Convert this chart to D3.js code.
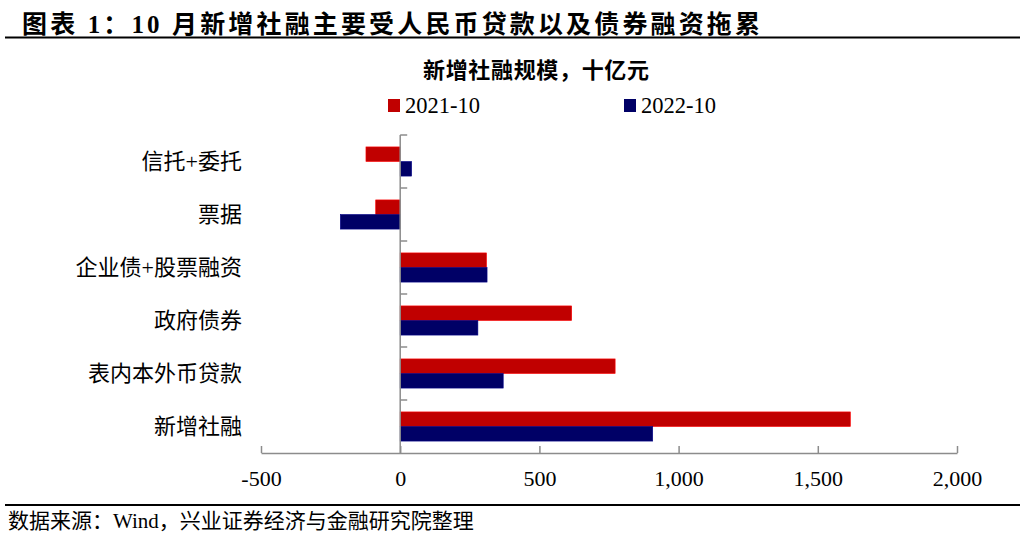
<!DOCTYPE html>
<html>
<head>
<meta charset="utf-8">
<script src="https://cdn.jsdelivr.net/npm/d3@7"></script>
<style>
  body { margin: 0; background: #fff; }
  svg { display: block; font-family: "Liberation Serif", "Noto Sans CJK SC", serif; }
</style>
</head>
<body>
<svg id="main" width="1020" height="538"></svg>
<script>
// data, ten billions (十亿元)
const categories = ['信托+委托', '票据', '企业债+股票融资', '政府债券', '表内本外币贷款', '新增社融'];
const series = ['2021-10', '2022-10'];
const values2021 = [-123, -88, 310, 616, 772, 1617];
const values2022 = [41, -215, 312, 279, 370, 907];
const xTicks = [-500, 0, 500, 1000, 1500, 2000];
const colors = ['#C00000', '#000066'];

const margin = { top: 135, left: 261, right: 63, bottom: 85 };
const width = 1020 - margin.left - margin.right;
const height = 538 - margin.top - margin.bottom;

const svg = d3.select('#main');

// title + rule
svg.append('text')
    .attr('x', 22)
    .attr('y', 33)
    .attr('font-size', 25)
    .attr('font-weight', 'bold')
    .attr('fill', '#000')
    .attr('textLength', 738)
    .attr('lengthAdjust', 'spacing')
    .text('图表 1：10 月新增社融主要受人民币贷款以及债券融资拖累');
svg.append('line')
    .attr('x1', 5).attr('x2', 1020)
    .attr('y1', 37.5).attr('y2', 37.5)
    .attr('stroke', '#000').attr('stroke-width', 2);

// chart title
svg.append('text')
    .attr('x', 423)
    .attr('y', 78)
    .attr('font-size', 22)
    .attr('font-weight', 'bold')
    .attr('textLength', 226)
    .attr('lengthAdjust', 'spacing')
    .text('新增社融规模，十亿元');

// legend
const legendX = [388, 624];
const legend = svg.append('g');
series.forEach((s, i) => {
    legend.append('rect')
        .attr('x', legendX[i]).attr('y', 99)
        .attr('width', 12).attr('height', 13)
        .attr('fill', colors[i]);
    legend.append('text')
        .attr('x', legendX[i] + 17).attr('y', 113)
        .attr('font-size', 22.5)
        .text(s);
});

const xScale = d3.scaleLinear()
    .domain([-500, 2000])
    .range([0, width]);

const yScale = d3.scaleBand()
    .domain(categories)
    .range([0, height])
    .paddingInner(0.45)
    .paddingOuter(0.225);

const sub = d3.scaleBand()
    .domain(series)
    .range([0, yScale.bandwidth()]);

const g = svg.append('g')
    .attr('transform', `translate(${margin.left},${margin.top})`);

const rows = categories.map((c, i) => ({ cat: c, vals: [values2021[i], values2022[i]] }));

g.selectAll('g.row')
    .data(rows)
    .join('g')
    .attr('class', 'row')
    .attr('transform', d => `translate(0,${yScale(d.cat)})`)
    .selectAll('rect')
    .data(d => d.vals.map((v, i) => ({ v: v, s: series[i], c: colors[i] })))
    .join('rect')
    .attr('x', d => xScale(Math.min(0, d.v)))
    .attr('y', d => sub(d.s))
    .attr('width', d => Math.abs(xScale(d.v) - xScale(0)))
    .attr('height', sub.bandwidth())
    .attr('fill', d => d.c)
    .attr('stroke', d => d3.color(d.c).brighter(0.8))
    .attr('stroke-width', 0.6);

// x axis
const fmt = d3.format(',');
const xAxis = g.append('g')
    .attr('transform', `translate(0,${height})`)
    .call(d3.axisBottom(xScale)
        .tickValues(xTicks)
        .tickSizeInner(-7)
        .tickSizeOuter(0)
        .tickPadding(17)
        .tickFormat(d => fmt(d).replace('−', '-')));
xAxis.selectAll('path, line').attr('stroke', '#8c8c8c').attr('stroke-width', 1.5);
xAxis.selectAll('text')
    .attr('font-family', '"Liberation Serif", serif')
    .attr('font-size', 22)
    .attr('fill', '#000');

// vertical axis at zero with category boundary ticks
const yAxis = g.append('g')
    .attr('transform', `translate(${xScale(0)},0)`);
yAxis.append('line')
    .attr('y1', 0).attr('y2', height)
    .attr('stroke', '#8c8c8c').attr('stroke-width', 1.5);
yAxis.selectAll('line.tick')
    .data(categories)
    .join('line')
    .attr('class', 'tick')
    .attr('x1', 0).attr('x2', 7)
    .attr('y1', d => yScale(d) - yScale.step() * yScale.paddingOuter())
    .attr('y2', d => yScale(d) - yScale.step() * yScale.paddingOuter())
    .attr('stroke', '#8c8c8c').attr('stroke-width', 1.5);

// category labels
g.selectAll('text.cat')
    .data(categories)
    .join('text')
    .attr('class', 'cat')
    .attr('x', -19)
    .attr('y', d => yScale(d) + yScale.bandwidth() / 2)
    .attr('dy', '0.35em')
    .attr('text-anchor', 'end')
    .attr('font-size', 22)
    .text(d => d);

// footer
svg.append('line')
    .attr('x1', 5).attr('x2', 1020)
    .attr('y1', 505).attr('y2', 505)
    .attr('stroke', '#000').attr('stroke-width', 2);
svg.append('text')
    .attr('x', 8)
    .attr('y', 528)
    .attr('font-size', 21)
    .text('数据来源：Wind，兴业证券经济与金融研究院整理');
</script>
</body>
</html>
